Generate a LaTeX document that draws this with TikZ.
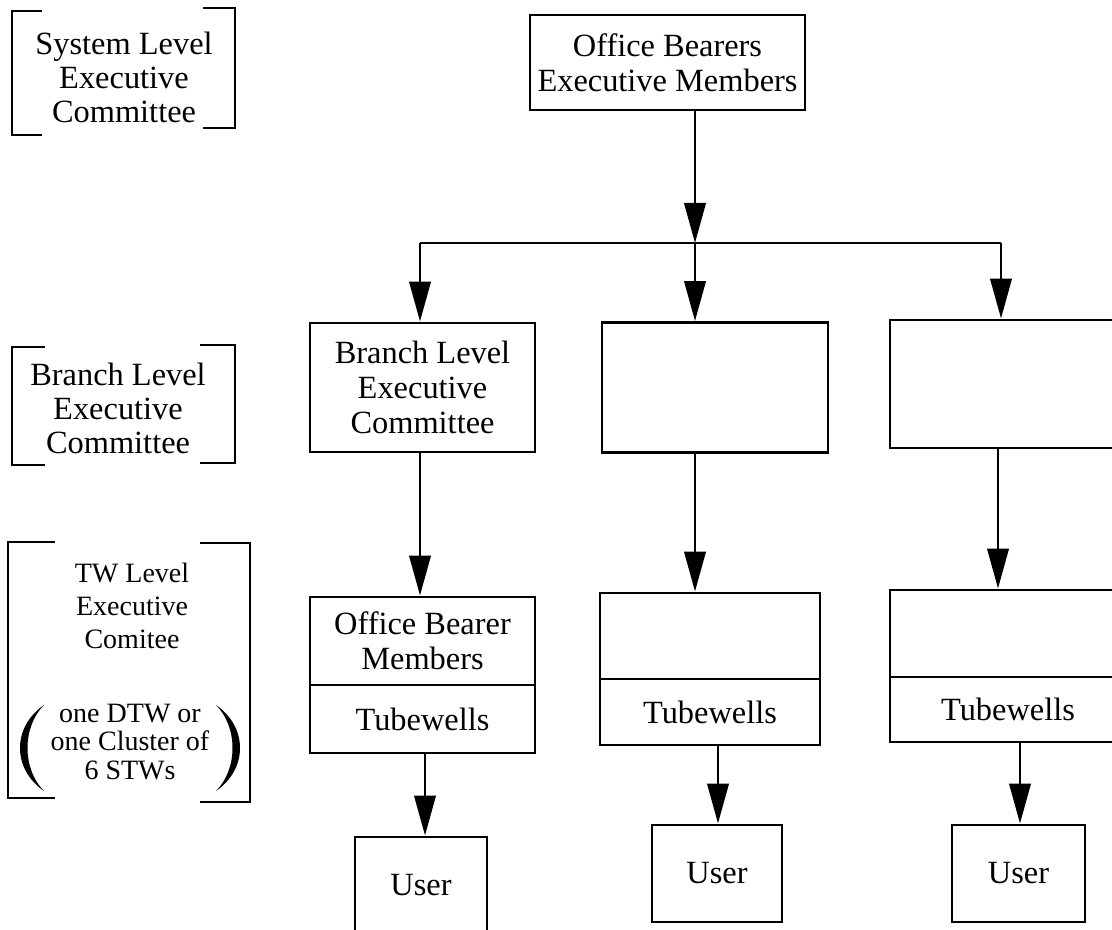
\documentclass[tikz,border=0pt]{standalone}
\usepackage{fontspec}
\setmainfont{Liberation Serif}
\usetikzlibrary{arrows.meta}
\tikzset{
  lw/.style={line width=2.2pt},
  boxn/.style={draw, lw, align=center, inner sep=0pt, font=\fontsize{24.3}{26}\selectfont},
  wh/.style 2 args={minimum width=#1*0.75pt, minimum height=#2*0.75pt},
  arr/.style={lw, -{Triangle[length=30pt, width=16pt]}},
  lbl/.style={align=center, inner sep=0pt, font=\fontsize{24.3}{25.5}\selectfont},
  lbls/.style={align=center, inner sep=0pt, font=\fontsize{21}{24.5}\selectfont},
  lblp/.style={align=center, inner sep=0pt, font=\fontsize{21}{21.5}\selectfont},
  brk/.style={lw},
}
\begin{document}
\begin{tikzpicture}[x=0.75pt, y=-0.75pt]
\useasboundingbox (0,0) rectangle (1112,930);
\clip (0,0) rectangle (1112,930);
\fill[white] (0,0) rectangle (1112,930);

% column coordinates for connectors
\coordinate (cL1) at (420,0);
\coordinate (cL2) at (425,0);
\coordinate (cM1) at (695,0);
\coordinate (cM2) at (718,0);
\coordinate (cR1) at (998,0);
\coordinate (cR2) at (1020,0);
\coordinate (jl) at (420,243);
\coordinate (jc) at (695,243);
\coordinate (jr) at (1001,243);

% boxes
\node[boxn, wh={275}{95}] (top) at (667.5,62.5) {Office Bearers\\Executive Members};

\node[boxn, wh={225}{129}] (bl) at (422.5,387.5) {Branch Level\\Executive\\Committee};
\node[boxn, wh={226}{130}] (bm) at (715,387.5) {};
\node[boxn, wh={232}{128}] (br) at (1006,384) {};

\node[boxn, wh={225}{88}] (tlU) at (422.5,641) {Office Bearer\\Members};
\node[boxn, wh={225}{68}] (tlL) at (422.5,719) {Tubewells};
\node[boxn, wh={220}{86}] (tmU) at (710,636) {};
\node[boxn, wh={220}{66}] (tmL) at (710,712) {Tubewells};
\node[boxn, wh={236}{87}] (trU) at (1008,633.5) {};
\node[boxn, wh={236}{65}] (trL) at (1008,709.5) {Tubewells};

\node[boxn, wh={132}{97}] (uL) at (421,885.5) {User};
\node[boxn, wh={130}{97}] (uM) at (717,873.5) {User};
\node[boxn, wh={133}{97}] (uR) at (1018.5,873.5) {User};

% connectors
\draw[arr] (top.south -| jc) -- (jc);
\draw[lw] (jl) -- (jr);
\draw[arr] (jl) -- (jl |- bl.north);
\draw[arr] (jc) -- (jc |- bm.north);
\draw[arr] (jr) -- (jr |- br.north);

\draw[arr] (bl.south -| cL1) -- (tlU.north -| cL1);
\draw[arr] (bm.south -| cM1) -- (tmU.north -| cM1);
\draw[arr] (br.south -| cR1) -- (trU.north -| cR1);

\draw[arr] (tlL.south -| cL2) -- (uL.north -| cL2);
\draw[arr] (tmL.south -| cM2) -- (uM.north -| cM2);
\draw[arr] (trL.south -| cR2) -- (uR.north -| cR2);

% left level labels
\node[lbl] (sys) at (124,77) {System Level\\Executive\\Committee};
\draw[brk] (42,11) -- (12,11) -- (12,135) -- (42,135);
\draw[brk] (203,8) -- (235,8) -- (235,128) -- (203,128);

\node[lbl] (brl) at (118,408) {Branch Level\\Executive\\Committee};
\draw[brk] (45,347) -- (12,347) -- (12,465) -- (45,465);
\draw[brk] (200,345) -- (235,345) -- (235,463) -- (200,463);

\node[lbls] (twl) at (132,606) {TW Level\\Executive\\Comitee};
\node[lblp] (twp) at (130,742) {one DTW or\\one Cluster of\\6 STWs};
\draw[brk] (55,542) -- (8,542) -- (8,798) -- (55,798);
\draw[brk] (200,543) -- (250,543) -- (250,802) -- (200,802);
% parentheses
\fill (44,705) .. controls (12,727) and (12,769) .. (44,791)
      .. controls (22,769) and (22,727) .. (44,705) -- cycle;
\fill (216,705) .. controls (248,727) and (248,769) .. (216,791)
      .. controls (238,769) and (238,727) .. (216,705) -- cycle;
\end{tikzpicture}
\end{document}
